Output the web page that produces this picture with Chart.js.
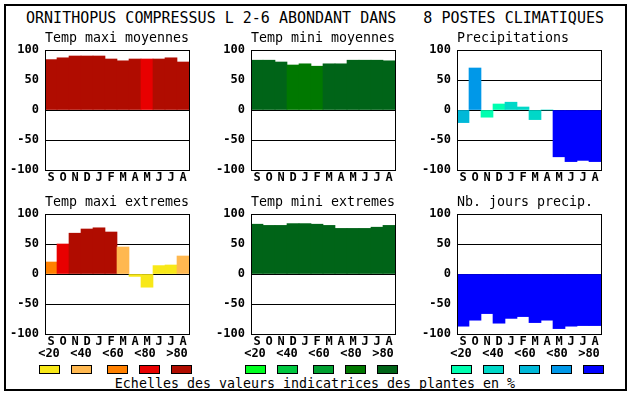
<!DOCTYPE html>
<html>
<head>
<meta charset="utf-8">
<script src="https://cdn.jsdelivr.net/npm/chart.js@4/dist/chart.umd.min.js"></script>
<style>
body { margin: 0; background: #fff; width: 630px; height: 394px; position: relative; overflow: hidden; font-family: 'DejaVu Sans Mono', monospace; }
.txt { position: absolute; white-space: pre; color: #000; line-height: 1; }
canvas { position: absolute; }
.sw { position: absolute; width: 19px; height: 7px; border: 1px solid #000; }
</style>
</head>
<body>
<div style="position:absolute;left:4px;top:4px;width:619px;height:383px;border:2px solid #000"></div>
<div class="txt" style="left:0;width:630px;top:11px;text-align:center;font-size:15px">ORNITHOPUS COMPRESSUS L 2-6 ABONDANT DANS   8 POSTES CLIMATIQUES</div>
<div class="txt" style="left:0;width:630px;top:377px;text-align:center;font-size:13.3px">Echelles des valeurs indicatrices des plantes en %</div>
<script>
// months Sept -> Aug
const MONTHS = ['S', 'O', 'N', 'D', 'J', 'F', 'M', 'A', 'M', 'J', 'J', 'A'];
const CLASS_LABELS = ['<20', '<40', '<60', '<80', '>80'];

// colour scales (5 classes each)
const HOT   = ['#f8e818', '#ffb850', '#ff8000', '#e80000', '#b00c00'];
const GREEN = ['#00ff20', '#00c840', '#00a030', '#007800', '#006418'];
const BLUE  = ['#00ffb0', '#00d8c8', '#00b8d8', '#0098e8', '#0000ff'];

// values
const tmaxMoy     = [84, 87, 90, 90, 90, 85, 82, 85, 85, 85, 87, 80];
const tmaxMoyCls  = [4, 4, 4, 4, 4, 4, 4, 4, 3, 4, 4, 4];
const tminMoy     = [83, 83, 80, 75, 77, 73, 77, 77, 83, 83, 83, 82];
const tminMoyCls  = [4, 4, 4, 3, 3, 3, 4, 4, 4, 4, 4, 4];
const precip      = [-21, 70, -12, 10, 13, 5, -16, 0, -78, -86, -84, -86];
const precipCls   = [2, 3, 0, 0, 1, 1, 1, 1, 4, 4, 4, 4];
const tmaxExt     = [20, 50, 68, 75, 77, 70, 45, -4, -22, 14, 15, 30];
const tmaxExtCls  = [2, 3, 4, 4, 4, 4, 1, 0, 0, 0, 0, 1];
const tminExt     = [83, 81, 81, 84, 84, 83, 81, 76, 76, 76, 78, 81];
const tminExtCls  = [4, 4, 4, 4, 4, 4, 4, 4, 4, 4, 4, 4];
const nbJours     = [-87, -77, -66, -82, -74, -71, -81, -77, -91, -87, -86, -86];
const nbJoursCls  = [4, 4, 4, 4, 4, 4, 4, 4, 4, 4, 4, 4];

// x,y = top left of each plot box
const PANELS = [
    { title: 'Temp maxi moyennes', data: tmaxMoy, cls: tmaxMoyCls, pal: HOT,   x: 45,  y: 50 },
    { title: 'Temp mini moyennes', data: tminMoy, cls: tminMoyCls, pal: GREEN, x: 251, y: 50 },
    { title: 'Precipitations',     data: precip,  cls: precipCls,  pal: BLUE,  x: 457, y: 50 },
    { title: 'Temp maxi extremes', data: tmaxExt, cls: tmaxExtCls, pal: HOT,   x: 45,  y: 214 },
    { title: 'Temp mini extremes', data: tminExt, cls: tminExtCls, pal: GREEN, x: 251, y: 214 },
    { title: 'Nb. jours precip.',  data: nbJours, cls: nbJoursCls, pal: BLUE,  x: 457, y: 214 }
];

const FONT = { family: "'DejaVu Sans Mono', monospace", size: 12, weight: 'bold' };

// black box round the plot area
const framePlugin = {
    id: 'frame',
    afterDraw(chart) {
        const { ctx, chartArea: a } = chart;
        ctx.save();
        ctx.strokeStyle = '#000';
        ctx.lineWidth = 1;
        ctx.strokeRect(Math.round(a.left) + 0.5, Math.round(a.top) + 0.5,
            Math.round(a.right - a.left), Math.round(a.bottom - a.top));
        ctx.restore();
    }
};

function addText(txt, left, top, size, bold, align, width) {
    const d = document.createElement('div');
    d.className = 'txt';
    d.textContent = txt;
    d.style.left = left + 'px';
    d.style.top = top + 'px';
    d.style.fontSize = size + 'px';
    if (bold) d.style.fontWeight = 'bold';
    if (align) { d.style.textAlign = align; d.style.width = width + 'px'; }
    document.body.appendChild(d);
}

PANELS.forEach((p, i) => {
    const cv = document.createElement('canvas');
    cv.width = 200; cv.height = 170;
    cv.style.left = (p.x - 45) + 'px';
    cv.style.top = (p.y - 20) + 'px';
    document.body.appendChild(cv);

    addText(p.title, p.x, p.y - 19, 13.3, false);

    new Chart(cv, {
        type: 'bar',
        data: {
            labels: MONTHS,
            datasets: [{
                data: p.data,
                backgroundColor: p.cls.map(c => p.pal[c]),
                borderWidth: 0,
                barPercentage: 1,
                categoryPercentage: 1
            }]
        },
        options: {
            responsive: false,
            maintainAspectRatio: false,
            animation: false,
            devicePixelRatio: 1,
            layout: { padding: { top: 20, right: 11, left: 0, bottom: 0 } },
            plugins: { legend: { display: false }, tooltip: { enabled: false } },
            scales: {
                x: {
                    grid: { display: false, drawTicks: false },
                    border: { display: false },
                    ticks: { font: FONT, color: '#000', padding: 1, maxRotation: 0, autoSkip: false },
                    afterFit: s => { s.height = 30; }
                },
                y: {
                    min: -100, max: 100, z: 1,
                    ticks: { stepSize: 50, font: FONT, color: '#000', padding: 6 },
                    grid: { color: '#000', lineWidth: 1, drawTicks: false },
                    border: { display: true, color: '#000' },
                    afterFit: s => { s.width = 45; }
                }
            }
        },
        plugins: [framePlugin]
    });

    // legend rows under the bottom panels
    if (i >= 3) {
        const base = p.x - 6;
        const swOff = [0, 32, 68, 100, 132];
        CLASS_LABELS.forEach((lab, k) => {
            addText(lab, base + 10 + 32 * k - 15, 347, 12, true, 'center', 30);
            const sw = document.createElement('div');
            sw.className = 'sw';
            sw.style.left = (base + swOff[k]) + 'px';
            sw.style.top = '365px';
            sw.style.background = p.pal[k];
            document.body.appendChild(sw);
        });
    }
});
</script>
</body>
</html>
